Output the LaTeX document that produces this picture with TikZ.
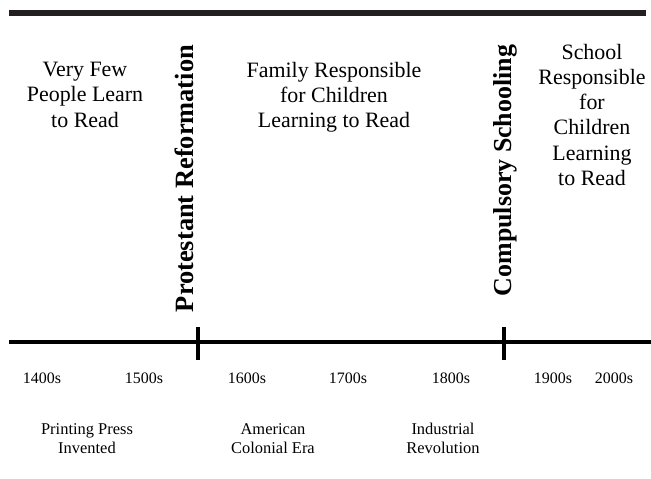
\documentclass[tikz,border=0pt]{standalone}
\usepackage{fontspec}
\setmainfont{Liberation Serif}
\definecolor{ink}{HTML}{231F20}
\begin{document}
\begin{tikzpicture}[x=1bp,y=-1bp,
  every node/.style={inner sep=0pt, outer sep=0pt},
  era/.style={anchor=north, align=center, font=\fontsize{22}{25.3}\selectfont},
  event/.style={rotate=90, anchor=base east, font=\fontsize{26}{30}\selectfont\bfseries},
  year/.style={anchor=base, font=\fontsize{16}{19}\selectfont},
  note/.style={anchor=north, align=center, font=\fontsize{16.5}{19}\selectfont},
  rule/.style={line width=6bp, ink},
  axis/.style={line width=4bp, black},
  tickmark/.style={line width=4bp, black}]
\useasboundingbox (0,0) rectangle (651,479);

% heading rule
\coordinate (ruleL) at (9,13);
\coordinate (ruleR) at (646,13);
\draw[rule] (ruleL) -- (ruleR);

% periods
\node[era] (few)    at (85,62.4) {Very Few\\People Learn\\to Read};
\node[era] (family) at (334,62)  {Family Responsible\\for Children\\Learning to Read};
\node[era] (school) at (592,44)  {School\\Responsible\\for\\Children\\Learning\\to Read};

% turning points
\node[event] (reform) at (193,45) {\fontsize{26.5}{30}\selectfont Protestant Reformation};
\node[event] (compul) at (511,45) {Compulsory Schooling};

% time axis
\coordinate (axL) at (9,342);
\coordinate (axR) at (651,342);
\draw[axis] (axL) -- (axR);
\coordinate (t1a) at (197.5,327);
\coordinate (t1b) at (197.5,360);
\coordinate (t2a) at (503.5,327);
\coordinate (t2b) at (503.5,360);
\draw[tickmark] (t1a) -- (t1b);
\draw[tickmark] (t2a) -- (t2b);

% centuries
\node[year] (c14) at (42,383)  {1400s};
\node[year] (c15) at (144,383) {1500s};
\node[year] (c16) at (247,383) {1600s};
\node[year] (c17) at (348,383) {1700s};
\node[year] (c18) at (451,383) {1800s};
\node[year] (c19) at (553,383) {1900s};
\node[year] (c20) at (614,383) {2000s};

% events below the axis
\node[note] (press)    at (87,423.7)  {Printing Press\\Invented};
\node[note] (colonial) at (273,423.7) {American\\Colonial Era};
\node[note] (indus)    at (443,422.7) {Industrial\\Revolution};
\end{tikzpicture}
\end{document}
